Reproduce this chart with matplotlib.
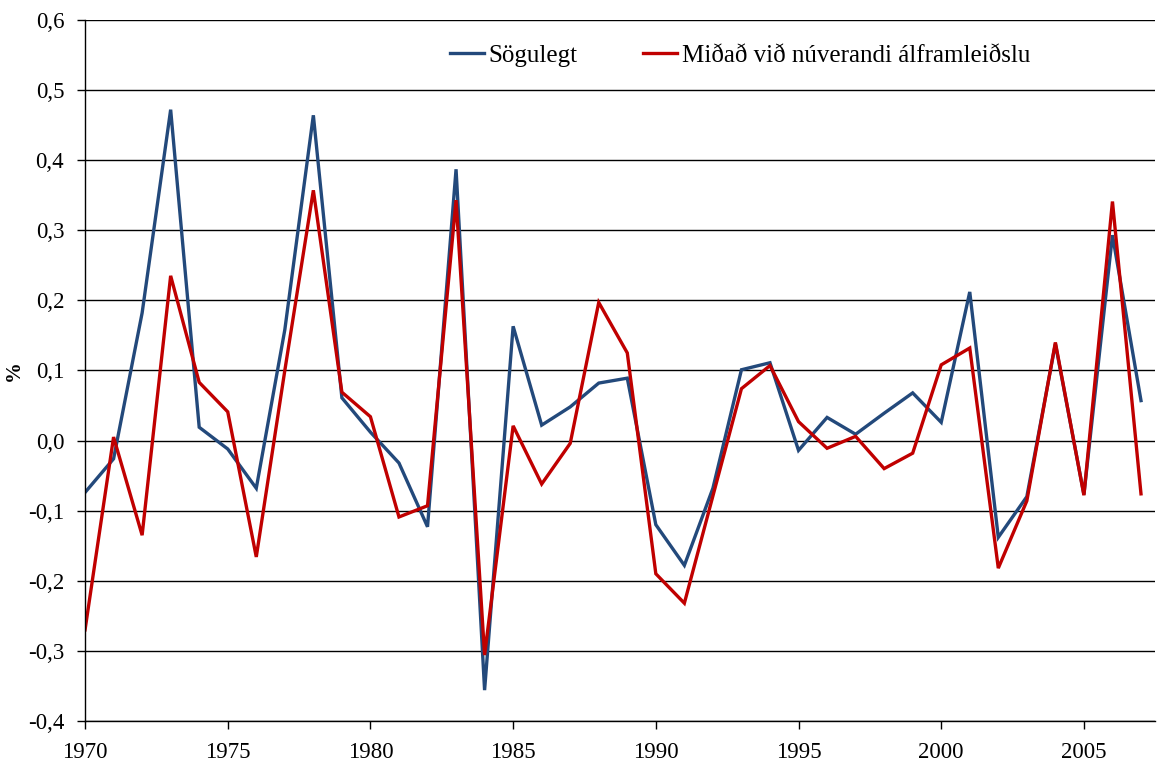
import numpy as np
import matplotlib
matplotlib.use("Agg")
import matplotlib.pyplot as plt
from matplotlib.ticker import FuncFormatter, MultipleLocator

# =========================
# Gögn
# =========================
years = list(range(1970, 2008))

sogulegt = [
    -0.074, -0.026, 0.182, 0.472, 0.019, -0.012, -0.068, 0.158, 0.464, 0.061,
    0.012, -0.032, -0.123, 0.387, -0.356, 0.163, 0.022, 0.048, 0.082, 0.089,
    -0.120, -0.178, -0.068, 0.101, 0.111, -0.014, 0.033, 0.009, 0.039, 0.068,
    0.026, 0.212, -0.138, -0.080, 0.138, -0.077, 0.293, 0.057,
]

alframl = [
    -0.270, 0.005, -0.135, 0.235, 0.083, 0.041, -0.166, 0.100, 0.357, 0.069,
    0.034, -0.109, -0.093, 0.343, -0.306, 0.021, -0.062, -0.004, 0.197, 0.125,
    -0.190, -0.232, -0.079, 0.074, 0.107, 0.027, -0.011, 0.006, -0.040, -0.018,
    0.108, 0.132, -0.182, -0.086, 0.140, -0.078, 0.341, -0.076,
]

labels = ["Sögulegt", "Miðað við núverandi álframleiðslu"]

# =========================
# Teikning
# =========================
plt.rcParams['font.family'] = ['Liberation Serif', 'DejaVu Serif']

fig = plt.figure(figsize=(11.57, 7.67), dpi=100)
ax = fig.add_axes([0.0735, 0.06, 0.925, 0.914])

ax.plot(years, sogulegt, color='#23497B', lw=2.4, label=labels[0],
        solid_joinstyle='miter')
ax.plot(years, alframl, color='#C00000', lw=2.4, label=labels[1],
        solid_joinstyle='miter')

ax.set_xlim(1970, 2007.5)
ax.set_ylim(-0.4, 0.6)
ax.xaxis.set_major_locator(MultipleLocator(5))
ax.yaxis.set_major_locator(MultipleLocator(0.1))
ax.yaxis.set_major_formatter(FuncFormatter(lambda v, p: f"{v:.1f}".replace('.', ',')))

ax.grid(axis='y', color='black', lw=1.0)
ax.set_axisbelow(True)
for s in ['top', 'right']:
    ax.spines[s].set_visible(False)
ax.spines['left'].set_linewidth(1.0)
ax.spines['bottom'].set_linewidth(1.0)
ax.tick_params(axis='both', direction='out', length=6, width=1.0,
               labelsize=16.5, colors='black')
ax.tick_params(axis='x', pad=9)
ax.tick_params(axis='y', pad=9)

ax.set_ylabel('%', fontsize=15, fontweight='bold', labelpad=3)

ax.legend(loc='upper center', bbox_to_anchor=(0.612, 0.997), ncol=2,
          frameon=False, fontsize=18, handlelength=1.35, columnspacing=2.6,
          handletextpad=0.2)

fig.savefig('out.png', dpi=100)
